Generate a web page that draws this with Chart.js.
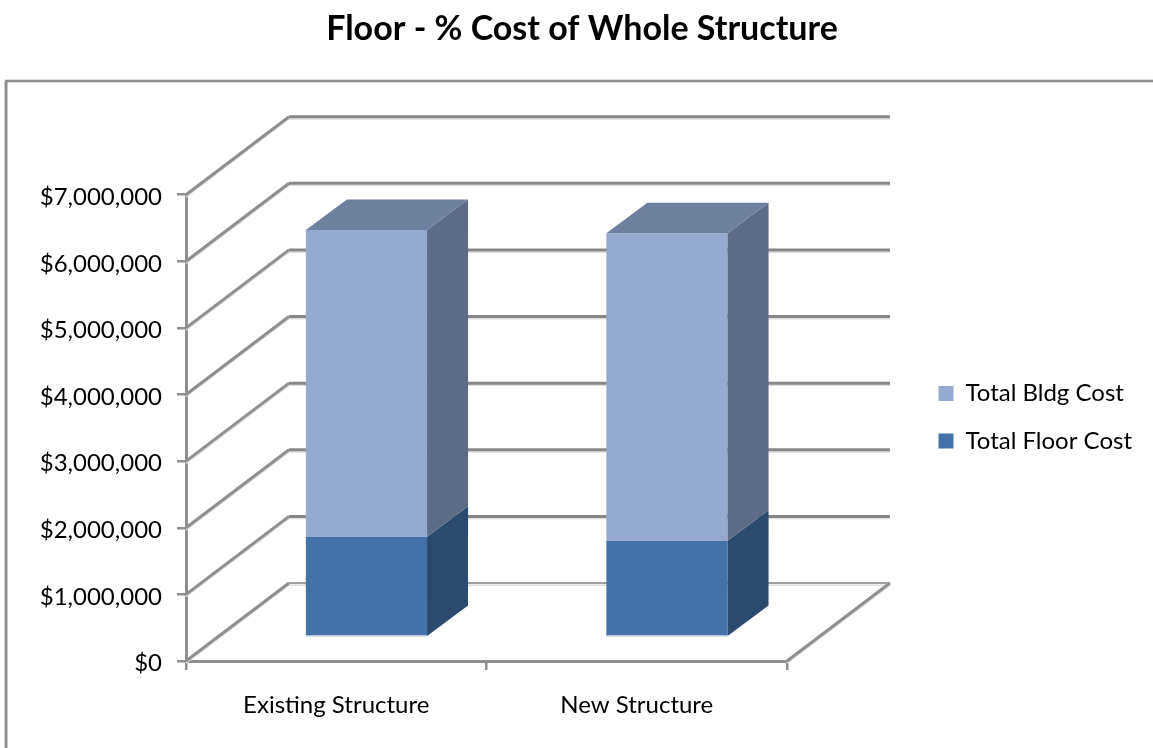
<!DOCTYPE html>
<html><head><meta charset="utf-8">
<style>html,body{margin:0;padding:0;background:#fff}canvas{display:block}</style>
<script src="https://cdn.jsdelivr.net/npm/chart.js@4"></script>
</head><body>
<canvas id="c" width="1153" height="748"></canvas>
<script>
const categories = ["Existing Structure", "New Structure"];
const totalFloorCost = [1510000, 1450000];
const totalBldgCost = [4606000, 4616000];
const yTickLabels = ["$0","$1,000,000","$2,000,000","$3,000,000","$4,000,000","$5,000,000","$6,000,000","$7,000,000"];
const titleText = "Floor - % Cost of Whole Structure";

const FONT = "Lato";
const GRID = "#878787";
const WALL = {dx: 103, dy: -78};
const BAR_SHIFT = {dx: 30.2, dy: -23.7};
const BAR_DEPTH = {dx: 41, dy: -30.5};
const SIDE = ["#2b4a70", "#5d6b87"];
const TOP = "#6f809f";
const LEGEND_POS = {left: 915, top: 358};

function gline(ctx, x1, y1, x2, y2, w, c){
  ctx.strokeStyle = "#dddddd"; ctx.lineWidth = 1.5;
  ctx.beginPath(); ctx.moveTo(x1, y1 + 2.2); ctx.lineTo(x2, y2 + 2.2); ctx.stroke();
  ctx.strokeStyle = c || GRID; ctx.lineWidth = w;
  ctx.beginPath(); ctx.moveTo(x1, y1); ctx.lineTo(x2, y2); ctx.stroke();
}
function poly(ctx, pts, fill){
  ctx.fillStyle = fill; ctx.beginPath();
  pts.forEach((p, i) => i ? ctx.lineTo(p[0], p[1]) : ctx.moveTo(p[0], p[1]));
  ctx.closePath(); ctx.fill();
}
const depth3d = {
  id: "depth3d",
  beforeLayout(chart){
    const lg = chart.legend;
    if (lg && !lg._fixedFit){
      const f = lg.fit.bind(lg);
      lg.fit = function(){ f(); this.width = 366; };
      lg._fixedFit = true;
    }
  },
  afterLayout(chart){
    const lg = chart.legend;
    const w = chart.width - LEGEND_POS.left;
    lg.left = LEGEND_POS.left; lg.right = LEGEND_POS.left + w; lg.width = w;
    lg.top = LEGEND_POS.top; lg.bottom = chart.height; lg.height = chart.height - LEGEND_POS.top;
  },
  beforeDraw(chart){
    const ctx = chart.ctx;
    ctx.save();
    ctx.strokeStyle = "#d6d6d6"; ctx.lineWidth = 1;
    ctx.beginPath(); ctx.moveTo(4.5, 748); ctx.lineTo(4.5, 81); ctx.stroke();
    ctx.strokeStyle = "#8e8e8e"; ctx.lineWidth = 2.6;
    ctx.beginPath(); ctx.moveTo(6.2, 748); ctx.lineTo(6.2, 81); ctx.lineTo(1153, 81); ctx.stroke();
    ctx.restore();
  },
  beforeDatasetsDraw(chart){
    const ctx = chart.ctx, {left, right} = chart.chartArea, y = chart.scales.y;
    ctx.save();
    y.ticks.forEach(t => {
      const py = y.getPixelForValue(t.value);
      gline(ctx, left, py, left + WALL.dx, py + WALL.dy, 3, "#8f8f8f");
      gline(ctx, left + WALL.dx, py + WALL.dy, right + WALL.dx, py + WALL.dy, t.value === 0 ? 2 : 3, t.value === 0 ? "#a0a0a0" : GRID);
    });
    const p0 = y.getPixelForValue(0);
    gline(ctx, right, p0, right + WALL.dx, p0 + WALL.dy, 3, "#8f8f8f");
    ctx.restore();
    ctx.save();
    ctx.translate(BAR_SHIFT.dx, BAR_SHIFT.dy);
  },
  afterDatasetsDraw(chart){
    const ctx = chart.ctx, n = chart.data.datasets.length;
    chart.data.datasets.forEach((ds, d) => {
      chart.getDatasetMeta(d).data.forEach(el => {
        const {x, y, base, width} = el.getProps(["x","y","base","width"], true);
        const l = x - width/2, r = x + width/2, D = BAR_DEPTH;
        poly(ctx, [[r,y],[r+D.dx,y+D.dy],[r+D.dx,base+D.dy],[r,base]], SIDE[d]);
        if (d === n - 1) poly(ctx, [[l,y],[l+D.dx,y+D.dy],[r+D.dx,y+D.dy],[r,y]], TOP);
        if (d === 0){ ctx.fillStyle = "#b9cbe3"; ctx.fillRect(l, base - 1, width, 1.5); }
      });
    });
    ctx.restore();
  }
};
new Chart(document.getElementById("c"), {
  type: "bar",
  plugins: [depth3d],
  data: {
    labels: categories,
    datasets: [
      {label: "Total Floor Cost", data: totalFloorCost, backgroundColor: "#4472a8", borderWidth: 0},
      {label: "Total Bldg Cost", data: totalBldgCost, backgroundColor: "#95a9d1", borderWidth: 0}
    ]
  },
  options: {
    responsive: false,
    animation: false,
    layout: {padding: {left: 11, right: 0, top: 0, bottom: 0}},
    datasets: {bar: {barPercentage: 0.4033, categoryPercentage: 1, clip: false}},
    plugins: {
      tooltip: {enabled: false},
      title: {display: true, text: titleText, color: "#000",
        font: {family: FONT, size: 34, weight: "bold", lineHeight: 1.2},
        padding: {top: 9, bottom: 144.9}},
      legend: {position: "right", align: "start", reverse: true,
        labels: {boxWidth: 15, boxHeight: 15, padding: 23.5, color: "#000",
          font: {family: FONT, size: 24}}}
    },
    scales: {
      x: {stacked: true,
        afterFit(s){ s.height = 87; },
        grid: {drawOnChartArea: false, drawTicks: true, tickLength: 9, color: "#8f8f8f", lineWidth: 2.5},
        border: {color: "#8f8f8f", width: 3},
        ticks: {color: "#000", padding: 21, maxRotation: 0, font: {family: FONT, size: 24}}},
      y: {stacked: true, min: 0, max: 7000000,
        afterFit(s){ s.width = 175; },
        grid: {drawOnChartArea: false, drawTicks: true, tickLength: 9, color: "#8f8f8f", lineWidth: 2.5},
        border: {color: "#8f8f8f", width: 3},
        ticks: {stepSize: 1000000, color: "#000", padding: 15, labelOffset: 2.5, font: {family: FONT, size: 24},
          callback: (v, i) => yTickLabels[i]}}
    }
  }
});
</script>
</body></html>
